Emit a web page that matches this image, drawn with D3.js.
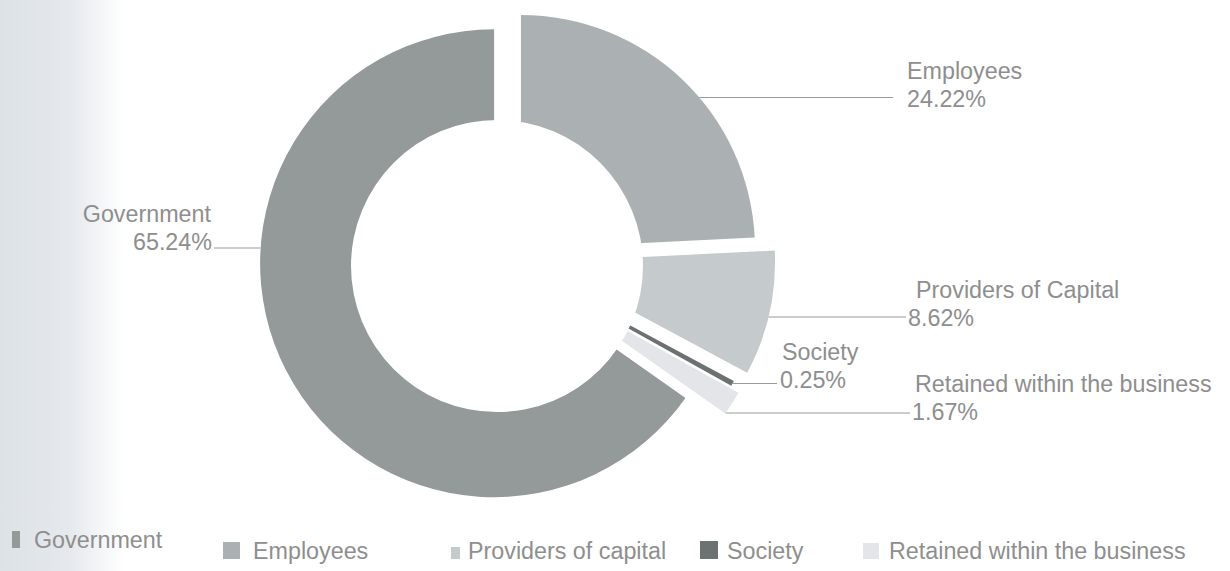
<!DOCTYPE html>
<html>
<head>
<meta charset="utf-8">
<script src="https://cdn.jsdelivr.net/npm/d3@7"></script>
<style>
  html, body { margin: 0; padding: 0; background: #ffffff; }
  svg { display: block; }
  text { font-family: "Liberation Sans", Arial, Helvetica, sans-serif; }
</style>
</head>
<body>
<svg id="chart" width="1230" height="571"></svg>
<script>
// ---- data ----
const categories   = ["Government", "Employees", "Providers of capital", "Society", "Retained within the business"];
const calloutNames = ["Government", "Employees", "Providers of Capital", "Society", "Retained within the business"];
const shares       = [65.24, 24.22, 8.62, 0.25, 1.67];
// clockwise order of the ring, starting at 12 o'clock
const ringOrder    = ["Employees", "Providers of capital", "Society", "Retained within the business", "Government"];

// ---- styling / layout ----
const colors  = ["#939a99", "#abb1b2", "#c5cacd", "#6c7272", "#e3e5e9"];
const explode = [17.9, 11.9, 31.8, 22.1, 33];   // outward pull of each slice (px, along its bisector)
const drift   = [0, 3.8, 0, 5.9, 7.5];          // small clockwise shift of each pulled slice (px)
const minEdge = 1.6;                            // outline so very thin slices stay visible
const W = 1230, H = 571;
const center = [510, 255];
const outerR = 234;
const hole = { cx: 497, cy: 266, r: 146 };
const textColor = "#8e8e8e";
const lineColor = "#9a9a9a";
const fontSize = 23.3;

// callout placement: name x, first baseline, value x, anchor, leader y, leader end x
const callouts = [
  { x: 211, y: 222, vx: 212, anchor: "end",   lineY: 248,   lineEnd: 214 },
  { x: 907, y: 79,  vx: 907, anchor: "start", lineY: 97.5,  lineEnd: 893 },
  { x: 916, y: 298, vx: 908, anchor: "start", lineY: 317,   lineEnd: 906 },
  { x: 782, y: 360, vx: 780, anchor: "start", lineY: 383.5, lineEnd: 777 },
  { x: 915, y: 392, vx: 912, anchor: "start", lineY: 413,   lineEnd: 910 }
];
const legendSwatchX = [12, 223, 451, 700, 863];
const legendSwatchW = [8, 17, 9, 18, 16];
const legendSwatchH = [17, 17, 12, 18, 16];
const legendTextX   = [34, 253, 468, 727, 889];
const legendBase    = [548, 559, 559, 559, 559];

const svg = d3.select("#chart");

// faint tinted strip along the left edge
const defs = svg.append("defs");
const grad = defs.append("linearGradient").attr("id", "edgeTint")
  .attr("x1", 0).attr("x2", 1).attr("y1", 0).attr("y2", 0);
grad.append("stop").attr("offset", 0).attr("stop-color", "#dde2e7");
grad.append("stop").attr("offset", 0.55).attr("stop-color", "#e5e9ed");
grad.append("stop").attr("offset", 1).attr("stop-color", "#ffffff");
svg.append("rect").attr("x", 0).attr("y", 0).attr("width", 125).attr("height", H)
  .attr("fill", "url(#edgeTint)");

// ---- pie geometry ----
const rows = categories.map((name, i) => ({ name, value: shares[i], idx: i }));
const pie = d3.pie()
  .value(d => d.value)
  .sort((a, b) => ringOrder.indexOf(a.name) - ringOrder.indexOf(b.name))
  .startAngle(0).endAngle(2 * Math.PI);
const arcs = pie(rows);
const arcGen = d3.arc().innerRadius(0).outerRadius(outerR);

function sliceCenter(a) {
  const mid = (a.startAngle + a.endAngle) / 2;
  const d = explode[a.data.idx], t = drift[a.data.idx];
  const ux = Math.sin(mid), uy = -Math.cos(mid);     // outward
  const tx = Math.cos(mid), ty = Math.sin(mid);      // clockwise
  return [center[0] + d * ux + t * tx, center[1] + d * uy + t * ty];
}

const g = svg.append("g");
g.selectAll("path.slice")
  .data(arcs)
  .join("path")
  .attr("class", "slice")
  .attr("d", arcGen)
  .attr("transform", a => `translate(${sliceCenter(a)})`)
  .attr("fill", a => colors[a.data.idx])
  .attr("stroke", a => (a.endAngle - a.startAngle) < 0.03 ? colors[a.data.idx] : "none")
  .attr("stroke-width", minEdge)
  .attr("stroke-linejoin", "miter");

// central opening
svg.append("circle")
  .attr("cx", hole.cx).attr("cy", hole.cy).attr("r", hole.r)
  .attr("fill", "#ffffff");

// ---- callouts ----
const fmt = v => d3.format(".2f")(v) + "%";
arcs.forEach(a => {
  const i = a.data.idx;
  const c = callouts[i];
  const sc = sliceCenter(a);
  const dy = c.lineY - sc[1];
  const dx = Math.sqrt(Math.max(0, outerR * outerR - dy * dy));
  const side = c.anchor === "end" ? -1 : 1;
  const x0 = sc[0] + side * dx;
  svg.append("line")
    .attr("x1", x0).attr("y1", c.lineY)
    .attr("x2", c.lineEnd).attr("y2", c.lineY)
    .attr("stroke", lineColor).attr("stroke-width", 1.2);
  const t = svg.append("text")
    .attr("y", c.y)
    .attr("text-anchor", c.anchor)
    .attr("font-size", fontSize)
    .attr("fill", textColor);
  t.append("tspan").attr("x", c.x).text(calloutNames[i]);
  t.append("tspan").attr("x", c.vx).attr("dy", 28).text(fmt(shares[i]));
});

// ---- legend ----
const legend = svg.append("g");
categories.forEach((name, i) => {
  legend.append("rect")
    .attr("x", legendSwatchX[i])
    .attr("y", legendBase[i] - legendSwatchH[i])
    .attr("width", legendSwatchW[i]).attr("height", legendSwatchH[i])
    .attr("fill", colors[i]);
  legend.append("text")
    .attr("x", legendTextX[i]).attr("y", legendBase[i])
    .attr("font-size", fontSize).attr("fill", textColor).text(name);
});
</script>
</body>
</html>
